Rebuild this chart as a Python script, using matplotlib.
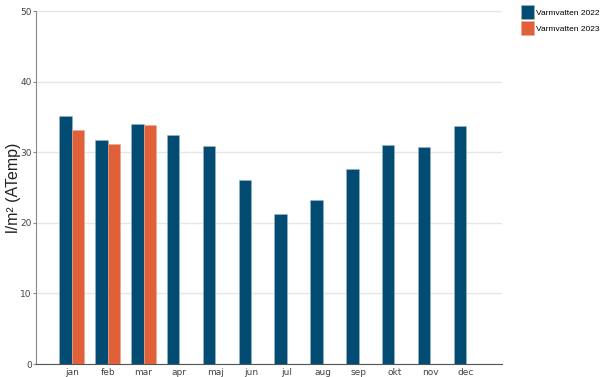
import numpy as np
import matplotlib.pyplot as plt

# Monthly hot water use, l/m2 (ATemp)
months = ['jan', 'feb', 'mar', 'apr', 'maj', 'jun', 'jul', 'aug', 'sep', 'okt', 'nov', 'dec']
vv_2022 = [35.1, 31.7, 34.0, 32.4, 30.9, 26.0, 21.3, 23.3, 27.6, 31.0, 30.7, 33.7]
vv_2023 = [33.2, 31.1, 33.9]

blue = '#024b73'
orange = '#e0603a'

fig = plt.figure(figsize=(6, 3.77), dpi=100)
ax = fig.add_axes([36 / 600, 13 / 377, 466 / 600, 353 / 377])

x = np.arange(len(months))
w = 0.35
b1 = ax.bar(x - w / 2, vv_2022, width=w, color=blue, edgecolor='#9fb7c8', linewidth=0.4,
            label='Varmvatten 2022', zorder=3)
b2 = ax.bar(x[:len(vv_2023)] + w / 2, vv_2023, width=w, color=orange, edgecolor='#f3a58a',
            linewidth=0.4, label='Varmvatten 2023', zorder=3)

ax.set_xlim(-1, 12)
ax.set_ylim(0, 50)
ax.set_yticks([0, 10, 20, 30, 40, 50])
ax.set_xticks(x)
ax.set_xticklabels(months)
ax.tick_params(axis='both', labelsize=6.5, colors='#444444', length=0, pad=3)
ax.tick_params(axis='y', length=2, color='#888888', pad=1)
ax.grid(axis='y', color='#e6e6e6', linewidth=1, zorder=0)

for s in ['top', 'right']:
    ax.spines[s].set_visible(False)
ax.spines['left'].set_color('#888888')
ax.spines['bottom'].set_color('#555555')

ax.set_ylabel('l/m² (ATemp)', fontsize=11.5, family='Liberation Sans', color='#222222')
ax.yaxis.set_label_coords(-0.032, 0.5)

fig.legend(handles=[b1, b2], loc='upper left', bbox_to_anchor=(518 / 600, 1 - 3 / 377),
           frameon=False, prop={'family': 'Liberation Sans', 'size': 6},
           handlelength=1.56, handleheight=2.1, handletextpad=0.28, labelspacing=0.3,
           borderaxespad=0, borderpad=0.3)

plt.savefig('out.png', dpi=100)
